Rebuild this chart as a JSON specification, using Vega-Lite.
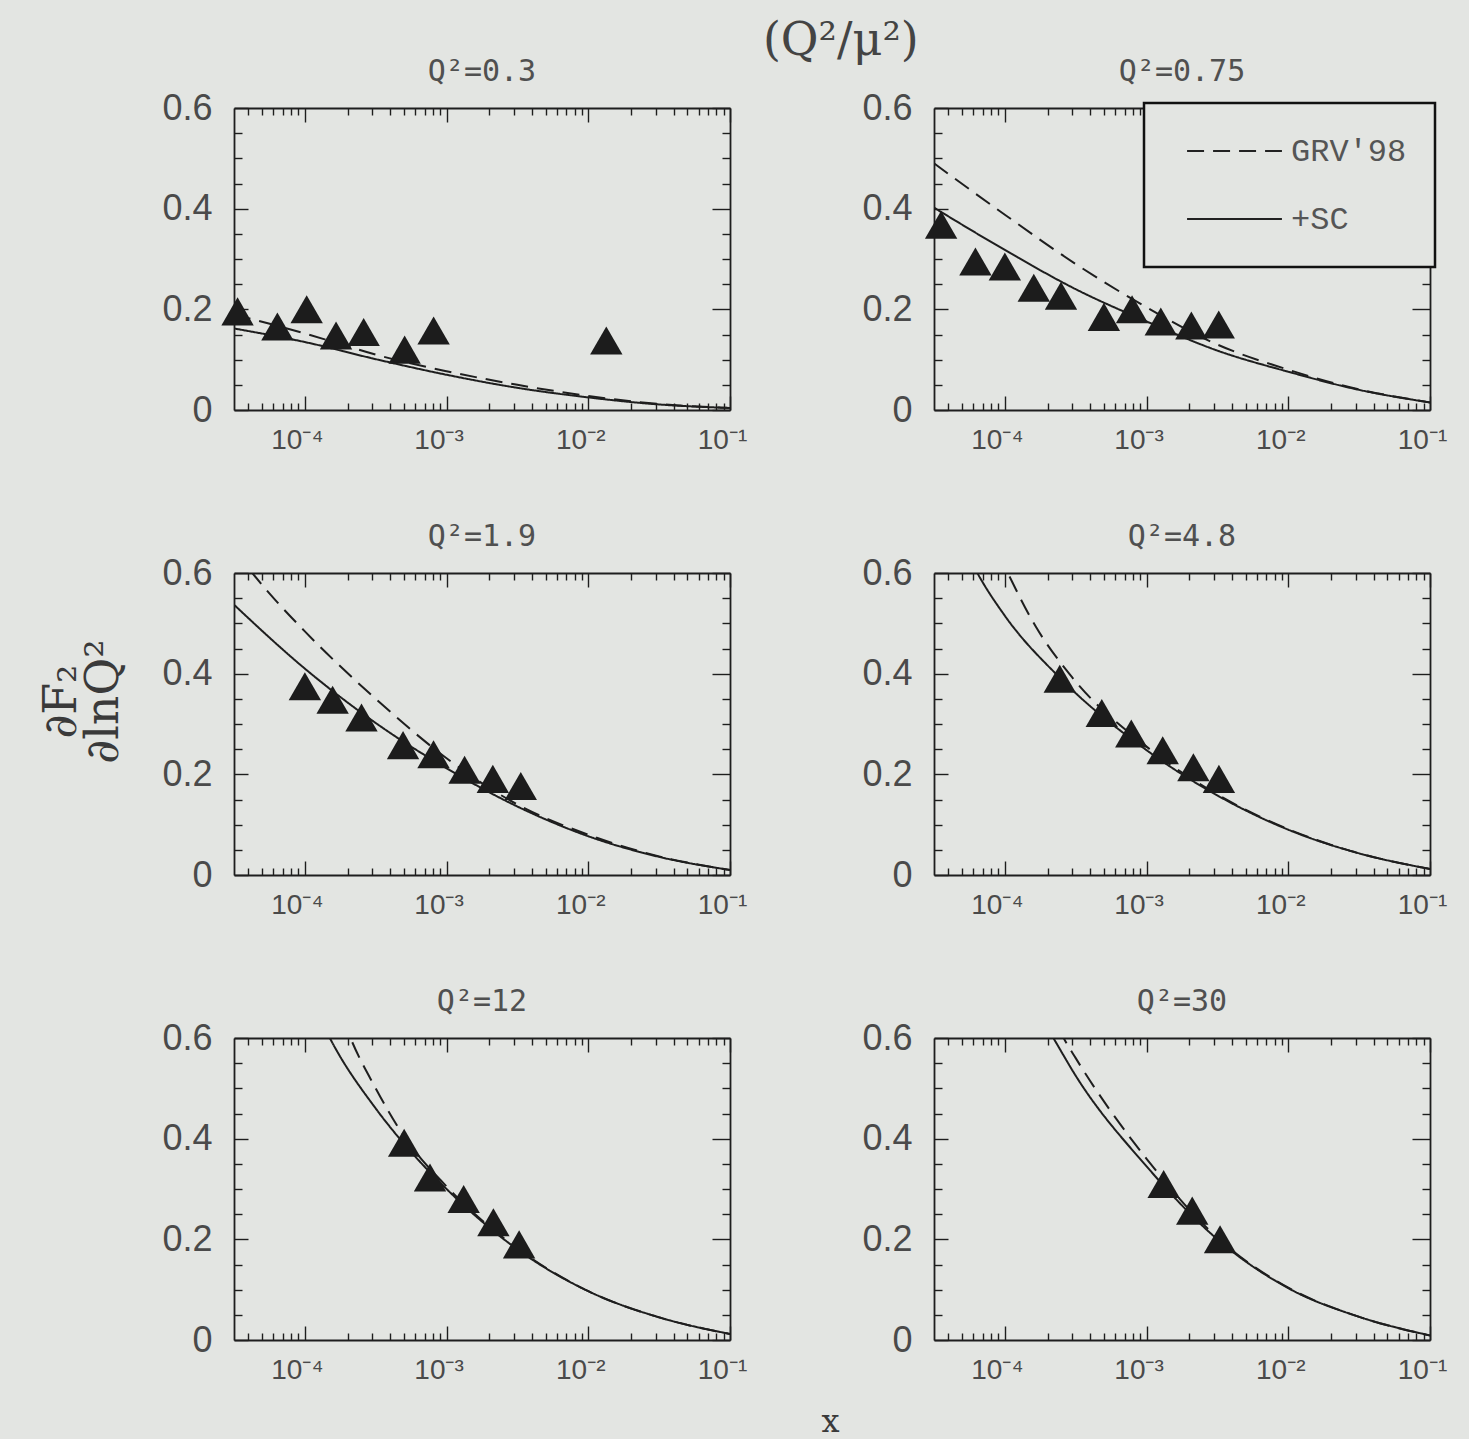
{
"$schema": "https://vega.github.io/schema/vega-lite/v6.json",
"background": "#e3e5e2",
"padding": {"left": 38, "top": 18, "right": 23, "bottom": 5},
"title": {"text": "(Q²/μ²)", "font": "DejaVu Serif", "fontSize": 46, "fontWeight": "normal", "color": "#444", "dx": 98, "offset": -8, "anchor": "middle"},
"datasets": {
"curves": [
{"p":"0.3","m":"GRV'98","x":3.1623e-5,"y":0.19},{"p":"0.3","m":"GRV'98","x":1e-4,"y":0.152},{"p":"0.3","m":"GRV'98","x":1.78e-4,"y":0.131},{"p":"0.3","m":"GRV'98","x":3.1623e-4,"y":0.110},{"p":"0.3","m":"GRV'98","x":1e-3,"y":0.077},{"p":"0.3","m":"GRV'98","x":3.1623e-3,"y":0.050},{"p":"0.3","m":"GRV'98","x":1e-2,"y":0.028},{"p":"0.3","m":"GRV'98","x":3.1623e-2,"y":0.012},{"p":"0.3","m":"GRV'98","x":0.1,"y":0.004},
{"p":"0.3","m":"+SC","x":3.1623e-5,"y":0.162},{"p":"0.3","m":"+SC","x":1e-4,"y":0.135},{"p":"0.3","m":"+SC","x":3.1623e-4,"y":0.101},{"p":"0.3","m":"+SC","x":1e-3,"y":0.070},{"p":"0.3","m":"+SC","x":3.1623e-3,"y":0.044},{"p":"0.3","m":"+SC","x":1e-2,"y":0.025},{"p":"0.3","m":"+SC","x":3.1623e-2,"y":0.011},{"p":"0.3","m":"+SC","x":0.1,"y":0.004},
{"p":"0.75","m":"GRV'98","x":3.1623e-5,"y":0.490},{"p":"0.75","m":"GRV'98","x":1e-4,"y":0.388},{"p":"0.75","m":"GRV'98","x":3.1623e-4,"y":0.290},{"p":"0.75","m":"GRV'98","x":1e-3,"y":0.204},{"p":"0.75","m":"GRV'98","x":3.1623e-3,"y":0.130},{"p":"0.75","m":"GRV'98","x":1e-2,"y":0.080},{"p":"0.75","m":"GRV'98","x":3.1623e-2,"y":0.041},{"p":"0.75","m":"GRV'98","x":0.1,"y":0.015},
{"p":"0.75","m":"+SC","x":3.1623e-5,"y":0.402},{"p":"0.75","m":"+SC","x":1e-4,"y":0.318},{"p":"0.75","m":"+SC","x":3.1623e-4,"y":0.240},{"p":"0.75","m":"+SC","x":1e-3,"y":0.176},{"p":"0.75","m":"+SC","x":3.1623e-3,"y":0.118},{"p":"0.75","m":"+SC","x":1e-2,"y":0.076},{"p":"0.75","m":"+SC","x":3.1623e-2,"y":0.040},{"p":"0.75","m":"+SC","x":0.1,"y":0.015},
{"p":"1.9","m":"GRV'98","x":3.1623e-5,"y":0.645},{"p":"1.9","m":"GRV'98","x":5.6e-5,"y":0.56},{"p":"1.9","m":"GRV'98","x":1e-4,"y":0.484},{"p":"1.9","m":"GRV'98","x":3.1623e-4,"y":0.350},{"p":"1.9","m":"GRV'98","x":1e-3,"y":0.232},{"p":"1.9","m":"GRV'98","x":3.1623e-3,"y":0.140},{"p":"1.9","m":"GRV'98","x":1e-2,"y":0.080},{"p":"1.9","m":"GRV'98","x":3.1623e-2,"y":0.037},{"p":"1.9","m":"GRV'98","x":0.1,"y":0.010},
{"p":"1.9","m":"+SC","x":3.1623e-5,"y":0.537},{"p":"1.9","m":"+SC","x":1e-4,"y":0.410},{"p":"1.9","m":"+SC","x":3.1623e-4,"y":0.302},{"p":"1.9","m":"+SC","x":1e-3,"y":0.212},{"p":"1.9","m":"+SC","x":3.1623e-3,"y":0.136},{"p":"1.9","m":"+SC","x":1e-2,"y":0.077},{"p":"1.9","m":"+SC","x":3.1623e-2,"y":0.036},{"p":"1.9","m":"+SC","x":0.1,"y":0.010},
{"p":"4.8","m":"GRV'98","x":9e-5,"y":0.64},{"p":"4.8","m":"GRV'98","x":1.05e-4,"y":0.60},{"p":"4.8","m":"GRV'98","x":1.64e-4,"y":0.495},{"p":"4.8","m":"GRV'98","x":2.9e-4,"y":0.397},{"p":"4.8","m":"GRV'98","x":1e-3,"y":0.255},{"p":"4.8","m":"GRV'98","x":3.1623e-3,"y":0.160},{"p":"4.8","m":"GRV'98","x":1e-2,"y":0.091},{"p":"4.8","m":"GRV'98","x":3.1623e-2,"y":0.043},{"p":"4.8","m":"GRV'98","x":0.1,"y":0.012},
{"p":"4.8","m":"+SC","x":5.2e-5,"y":0.65},{"p":"4.8","m":"+SC","x":6.4e-5,"y":0.60},{"p":"4.8","m":"+SC","x":1e-4,"y":0.515},{"p":"4.8","m":"+SC","x":2.44e-4,"y":0.392},{"p":"4.8","m":"+SC","x":1e-3,"y":0.248},{"p":"4.8","m":"+SC","x":3.1623e-3,"y":0.158},{"p":"4.8","m":"+SC","x":1e-2,"y":0.090},{"p":"4.8","m":"+SC","x":3.1623e-2,"y":0.043},{"p":"4.8","m":"+SC","x":0.1,"y":0.012},
{"p":"12","m":"GRV'98","x":1.85e-4,"y":0.64},{"p":"12","m":"GRV'98","x":2.1e-4,"y":0.60},{"p":"12","m":"GRV'98","x":3.1623e-4,"y":0.50},{"p":"12","m":"GRV'98","x":5e-4,"y":0.405},{"p":"12","m":"GRV'98","x":1e-3,"y":0.305},{"p":"12","m":"GRV'98","x":3.1623e-3,"y":0.182},{"p":"12","m":"GRV'98","x":1e-2,"y":0.097},{"p":"12","m":"GRV'98","x":3.1623e-2,"y":0.045},{"p":"12","m":"GRV'98","x":0.1,"y":0.012},
{"p":"12","m":"+SC","x":1.3e-4,"y":0.635},{"p":"12","m":"+SC","x":1.5e-4,"y":0.60},{"p":"12","m":"+SC","x":3.1623e-4,"y":0.46},{"p":"12","m":"+SC","x":5e-4,"y":0.39},{"p":"12","m":"+SC","x":1e-3,"y":0.30},{"p":"12","m":"+SC","x":3.1623e-3,"y":0.18},{"p":"12","m":"+SC","x":1e-2,"y":0.097},{"p":"12","m":"+SC","x":3.1623e-2,"y":0.045},{"p":"12","m":"+SC","x":0.1,"y":0.012},
{"p":"30","m":"GRV'98","x":2.4e-4,"y":0.62},{"p":"30","m":"GRV'98","x":2.6e-4,"y":0.60},{"p":"30","m":"GRV'98","x":3.1623e-4,"y":0.56},{"p":"30","m":"GRV'98","x":1e-3,"y":0.36},{"p":"30","m":"GRV'98","x":3.1623e-3,"y":0.203},{"p":"30","m":"GRV'98","x":1e-2,"y":0.104},{"p":"30","m":"GRV'98","x":3.1623e-2,"y":0.046},{"p":"30","m":"GRV'98","x":0.1,"y":0.009},
{"p":"30","m":"+SC","x":1.95e-4,"y":0.625},{"p":"30","m":"+SC","x":2.2e-4,"y":0.60},{"p":"30","m":"+SC","x":3.1623e-4,"y":0.525},{"p":"30","m":"+SC","x":1e-3,"y":0.345},{"p":"30","m":"+SC","x":3.1623e-3,"y":0.20},{"p":"30","m":"+SC","x":1e-2,"y":0.103},{"p":"30","m":"+SC","x":3.1623e-2,"y":0.046},{"p":"30","m":"+SC","x":0.1,"y":0.009}
],
"pts": [
{"p":"0.3","x":3.35e-5,"y":0.196},{"p":"0.3","x":6.4e-5,"y":0.166},{"p":"0.3","x":1.03e-4,"y":0.2},{"p":"0.3","x":1.66e-4,"y":0.148},{"p":"0.3","x":2.6e-4,"y":0.155},{"p":"0.3","x":5.06e-4,"y":0.12},{"p":"0.3","x":8.1e-4,"y":0.158},{"p":"0.3","x":1.34e-2,"y":0.138},
{"p":"0.75","x":3.55e-5,"y":0.368},{"p":"0.75","x":6.2e-5,"y":0.295},{"p":"0.75","x":1.0e-4,"y":0.285},{"p":"0.75","x":1.6e-4,"y":0.243},{"p":"0.75","x":2.49e-4,"y":0.227},{"p":"0.75","x":5.0e-4,"y":0.185},{"p":"0.75","x":7.9e-4,"y":0.2},{"p":"0.75","x":1.26e-3,"y":0.176},{"p":"0.75","x":2.07e-3,"y":0.168},{"p":"0.75","x":3.23e-3,"y":0.17},
{"p":"1.9","x":1.0e-4,"y":0.375},{"p":"1.9","x":1.57e-4,"y":0.348},{"p":"1.9","x":2.51e-4,"y":0.313},{"p":"1.9","x":4.93e-4,"y":0.258},{"p":"1.9","x":8.09e-4,"y":0.24},{"p":"1.9","x":1.34e-3,"y":0.209},{"p":"1.9","x":2.12e-3,"y":0.191},{"p":"1.9","x":3.34e-3,"y":0.177},
{"p":"4.8","x":2.44e-4,"y":0.39},{"p":"4.8","x":4.83e-4,"y":0.322},{"p":"4.8","x":7.8e-4,"y":0.281},{"p":"4.8","x":1.3e-3,"y":0.248},{"p":"4.8","x":2.14e-3,"y":0.214},{"p":"4.8","x":3.24e-3,"y":0.191},
{"p":"12","x":5.02e-4,"y":0.392},{"p":"12","x":7.64e-4,"y":0.323},{"p":"12","x":1.32e-3,"y":0.28},{"p":"12","x":2.14e-3,"y":0.234},{"p":"12","x":3.25e-3,"y":0.19},
{"p":"30","x":1.32e-3,"y":0.31},{"p":"30","x":2.1e-3,"y":0.257},{"p":"30","x":3.3e-3,"y":0.2}
]
},
"columns": 2,
"align": "each",
"spacing": {"row": 61, "column": 21},
"resolve": {"scale": {"strokeDash": "independent"}, "legend": {"strokeDash": "independent"}},
"config": {
"view": {"stroke": null},
"axis": {"grid": false, "domainColor": "#1e1e1e", "domainWidth": 1.8, "tickColor": "#1e1e1e", "tickWidth": 1.4, "labelFont": "Liberation Sans", "labelColor": "#4a4a4a", "titleFont": "DejaVu Serif", "titleColor": "#3a3a3a", "titleFontWeight": "normal", "labelOverlap": false, "labelFlush": false, "labelBound": false},
"title": {"font": "DejaVu Sans Mono", "fontSize": 30, "fontWeight": "normal", "color": "#505050", "offset": 3},
"legend": {"orient": "top-right", "offset": -5, "strokeColor": "#111", "strokeWidth": 2.5, "fillColor": "#e3e5e2", "padding": 28, "symbolType": "stroke", "symbolSize": 9000, "symbolStrokeWidth": 2, "symbolStrokeColor": "#222", "symbolOffset": 14, "labelFont": "Liberation Mono", "labelFontSize": 32, "labelColor": "#555", "labelOffset": 8, "rowPadding": 28, "clipHeight": 40, "title": null}
},
"concat": [
{"width": 496, "height": 302, "title": "Q²=0.3",
 "resolve": {"axis": {"x": "independent", "y": "independent"}},
 "layer": [
  {"data": {"name": "curves"}, "transform": [{"filter": {"and": [{"field": "p", "equal": "0.3"}, {"field": "m", "equal": "GRV'98"}]}}],
   "mark": {"type": "line", "clip": true, "interpolate": "monotone", "color": "#1e1e1e", "strokeWidth": 2},
   "encoding": {
    "x": {"field": "x", "type": "quantitative", "scale": {"type": "log", "domain": [3.1623e-5, 0.1], "nice": false}, "axis": {"orient": "bottom", "title": null, "values": [4e-5,5e-5,6e-5,7e-5,8e-5,9e-5,1e-4,2e-4,3e-4,4e-4,5e-4,6e-4,7e-4,8e-4,9e-4,1e-3,2e-3,3e-3,4e-3,5e-3,6e-3,7e-3,8e-3,9e-3,1e-2,2e-2,3e-2,4e-2,5e-2,6e-2,7e-2,8e-2,9e-2,0.1], "labelExpr": "abs(log(datum.value)/LN10 - round(log(datum.value)/LN10)) < 0.01 ? '10⁻' + ['','¹','²','³','⁴','⁵'][-round(log(datum.value)/LN10)] : ''", "tickSize": {"condition": {"test": "abs(log(datum.value)/LN10 - round(log(datum.value)/LN10)) < 0.01", "value": -14}, "value": -7}, "labelPadding": 30, "labelFontSize": 28, "labelOffset": -8}},
    "y": {"field": "y", "type": "quantitative", "scale": {"domain": [0, 0.6], "nice": false}, "axis": {"orient": "left", "title": null, "values": [0,0.05,0.1,0.15,0.2,0.25,0.3,0.35,0.4,0.45,0.5,0.55,0.6], "labelExpr": "abs(datum.value*5 - round(datum.value*5)) < 0.001 ? (datum.value == 0 ? '0' : format(datum.value, '.1f')) : ''", "tickSize": {"condition": {"test": "abs(datum.value*5 - round(datum.value*5)) < 0.001", "value": -14}, "value": -8}, "labelPadding": 36, "labelFontSize": 36}},
    "strokeDash": {"field": "m", "type": "nominal", "scale": {"domain": ["GRV'98", "+SC"], "range": [[17, 9], [1, 0]]}, "legend": null}}},
  {"data": {"name": "curves"}, "transform": [{"filter": {"and": [{"field": "p", "equal": "0.3"}, {"field": "m", "equal": "+SC"}]}}],
   "mark": {"type": "line", "clip": true, "interpolate": "monotone", "color": "#1e1e1e", "strokeWidth": 2},
   "encoding": {
    "x": {"field": "x", "type": "quantitative", "axis": {"orient": "top", "title": null, "labels": false, "minExtent": 0, "maxExtent": 0, "values": [4e-5,5e-5,6e-5,7e-5,8e-5,9e-5,1e-4,2e-4,3e-4,4e-4,5e-4,6e-4,7e-4,8e-4,9e-4,1e-3,2e-3,3e-3,4e-3,5e-3,6e-3,7e-3,8e-3,9e-3,1e-2,2e-2,3e-2,4e-2,5e-2,6e-2,7e-2,8e-2,9e-2,0.1], "tickSize": {"condition": {"test": "abs(log(datum.value)/LN10 - round(log(datum.value)/LN10)) < 0.01", "value": -14}, "value": -7}}},
    "y": {"field": "y", "type": "quantitative", "axis": {"orient": "right", "title": null, "labels": false, "minExtent": 0, "maxExtent": 0, "values": [0,0.05,0.1,0.15,0.2,0.25,0.3,0.35,0.4,0.45,0.5,0.55,0.6], "tickSize": {"condition": {"test": "abs(datum.value*5 - round(datum.value*5)) < 0.001", "value": -18}, "value": -8}}},
    "strokeDash": {"field": "m", "type": "nominal", "legend": null}}},
  {"data": {"name": "pts"}, "transform": [{"filter": {"field": "p", "equal": "0.3"}}],
   "mark": {"type": "point", "filled": true, "shape": "M-1,0.866L0,-0.866L1,0.866Z", "size": 1050, "color": "#1c1c1c", "opacity": 1},
   "encoding": {"x": {"field": "x", "type": "quantitative", "axis": null}, "y": {"field": "y", "type": "quantitative", "axis": null}}}
 ]},
{"width": 496, "height": 302, "title": "Q²=0.75",
 "resolve": {"axis": {"x": "independent", "y": "independent"}},
 "layer": [
  {"data": {"name": "curves"}, "transform": [{"filter": {"and": [{"field": "p", "equal": "0.75"}, {"field": "m", "equal": "GRV'98"}]}}],
   "mark": {"type": "line", "clip": true, "interpolate": "monotone", "color": "#1e1e1e", "strokeWidth": 2},
   "encoding": {
    "x": {"field": "x", "type": "quantitative", "scale": {"type": "log", "domain": [3.1623e-5, 0.1], "nice": false}, "axis": {"orient": "bottom", "title": null, "values": [4e-5,5e-5,6e-5,7e-5,8e-5,9e-5,1e-4,2e-4,3e-4,4e-4,5e-4,6e-4,7e-4,8e-4,9e-4,1e-3,2e-3,3e-3,4e-3,5e-3,6e-3,7e-3,8e-3,9e-3,1e-2,2e-2,3e-2,4e-2,5e-2,6e-2,7e-2,8e-2,9e-2,0.1], "labelExpr": "abs(log(datum.value)/LN10 - round(log(datum.value)/LN10)) < 0.01 ? '10⁻' + ['','¹','²','³','⁴','⁵'][-round(log(datum.value)/LN10)] : ''", "tickSize": {"condition": {"test": "abs(log(datum.value)/LN10 - round(log(datum.value)/LN10)) < 0.01", "value": -14}, "value": -7}, "labelPadding": 30, "labelFontSize": 28, "labelOffset": -8}},
    "y": {"field": "y", "type": "quantitative", "scale": {"domain": [0, 0.6], "nice": false}, "axis": {"orient": "left", "title": null, "values": [0,0.05,0.1,0.15,0.2,0.25,0.3,0.35,0.4,0.45,0.5,0.55,0.6], "labelExpr": "abs(datum.value*5 - round(datum.value*5)) < 0.001 ? (datum.value == 0 ? '0' : format(datum.value, '.1f')) : ''", "tickSize": {"condition": {"test": "abs(datum.value*5 - round(datum.value*5)) < 0.001", "value": -14}, "value": -8}, "labelPadding": 36, "labelFontSize": 36}},
    "strokeDash": {"field": "m", "type": "nominal", "scale": {"domain": ["GRV'98", "+SC"], "range": [[17, 9], [1, 0]]}}}},
  {"data": {"name": "curves"}, "transform": [{"filter": {"and": [{"field": "p", "equal": "0.75"}, {"field": "m", "equal": "+SC"}]}}],
   "mark": {"type": "line", "clip": true, "interpolate": "monotone", "color": "#1e1e1e", "strokeWidth": 2},
   "encoding": {
    "x": {"field": "x", "type": "quantitative", "axis": {"orient": "top", "title": null, "labels": false, "minExtent": 0, "maxExtent": 0, "values": [4e-5,5e-5,6e-5,7e-5,8e-5,9e-5,1e-4,2e-4,3e-4,4e-4,5e-4,6e-4,7e-4,8e-4,9e-4,1e-3,2e-3,3e-3,4e-3,5e-3,6e-3,7e-3,8e-3,9e-3,1e-2,2e-2,3e-2,4e-2,5e-2,6e-2,7e-2,8e-2,9e-2,0.1], "tickSize": {"condition": {"test": "abs(log(datum.value)/LN10 - round(log(datum.value)/LN10)) < 0.01", "value": -14}, "value": -7}}},
    "y": {"field": "y", "type": "quantitative", "axis": {"orient": "right", "title": null, "labels": false, "minExtent": 0, "maxExtent": 0, "values": [0,0.05,0.1,0.15,0.2,0.25,0.3,0.35,0.4,0.45,0.5,0.55,0.6], "tickSize": {"condition": {"test": "abs(datum.value*5 - round(datum.value*5)) < 0.001", "value": -18}, "value": -8}}},
    "strokeDash": {"field": "m", "type": "nominal"}}},
  {"data": {"name": "pts"}, "transform": [{"filter": {"field": "p", "equal": "0.75"}}],
   "mark": {"type": "point", "filled": true, "shape": "M-1,0.866L0,-0.866L1,0.866Z", "size": 1050, "color": "#1c1c1c", "opacity": 1},
   "encoding": {"x": {"field": "x", "type": "quantitative", "axis": null}, "y": {"field": "y", "type": "quantitative", "axis": null}}}
 ]},
{"width": 496, "height": 302, "title": "Q²=1.9",
 "resolve": {"axis": {"x": "independent", "y": "independent"}},
 "layer": [
  {"data": {"name": "curves"}, "transform": [{"filter": {"and": [{"field": "p", "equal": "1.9"}, {"field": "m", "equal": "GRV'98"}]}}],
   "mark": {"type": "line", "clip": true, "interpolate": "monotone", "color": "#1e1e1e", "strokeWidth": 2},
   "encoding": {
    "x": {"field": "x", "type": "quantitative", "scale": {"type": "log", "domain": [3.1623e-5, 0.1], "nice": false}, "axis": {"orient": "bottom", "title": null, "values": [4e-5,5e-5,6e-5,7e-5,8e-5,9e-5,1e-4,2e-4,3e-4,4e-4,5e-4,6e-4,7e-4,8e-4,9e-4,1e-3,2e-3,3e-3,4e-3,5e-3,6e-3,7e-3,8e-3,9e-3,1e-2,2e-2,3e-2,4e-2,5e-2,6e-2,7e-2,8e-2,9e-2,0.1], "labelExpr": "abs(log(datum.value)/LN10 - round(log(datum.value)/LN10)) < 0.01 ? '10⁻' + ['','¹','²','³','⁴','⁵'][-round(log(datum.value)/LN10)] : ''", "tickSize": {"condition": {"test": "abs(log(datum.value)/LN10 - round(log(datum.value)/LN10)) < 0.01", "value": -14}, "value": -7}, "labelPadding": 30, "labelFontSize": 28, "labelOffset": -8}},
    "y": {"field": "y", "type": "quantitative", "scale": {"domain": [0, 0.6], "nice": false}, "axis": {"orient": "left", "title": ["∂F₂", "∂lnQ²"], "titleFontSize": 46, "titlePadding": 34, "titleLineHeight": 42, "titleY": 128, "values": [0,0.05,0.1,0.15,0.2,0.25,0.3,0.35,0.4,0.45,0.5,0.55,0.6], "labelExpr": "abs(datum.value*5 - round(datum.value*5)) < 0.001 ? (datum.value == 0 ? '0' : format(datum.value, '.1f')) : ''", "tickSize": {"condition": {"test": "abs(datum.value*5 - round(datum.value*5)) < 0.001", "value": -14}, "value": -8}, "labelPadding": 36, "labelFontSize": 36}},
    "strokeDash": {"field": "m", "type": "nominal", "scale": {"domain": ["GRV'98", "+SC"], "range": [[17, 9], [1, 0]]}, "legend": null}}},
  {"data": {"name": "curves"}, "transform": [{"filter": {"and": [{"field": "p", "equal": "1.9"}, {"field": "m", "equal": "+SC"}]}}],
   "mark": {"type": "line", "clip": true, "interpolate": "monotone", "color": "#1e1e1e", "strokeWidth": 2},
   "encoding": {
    "x": {"field": "x", "type": "quantitative", "axis": {"orient": "top", "title": null, "labels": false, "minExtent": 0, "maxExtent": 0, "values": [4e-5,5e-5,6e-5,7e-5,8e-5,9e-5,1e-4,2e-4,3e-4,4e-4,5e-4,6e-4,7e-4,8e-4,9e-4,1e-3,2e-3,3e-3,4e-3,5e-3,6e-3,7e-3,8e-3,9e-3,1e-2,2e-2,3e-2,4e-2,5e-2,6e-2,7e-2,8e-2,9e-2,0.1], "tickSize": {"condition": {"test": "abs(log(datum.value)/LN10 - round(log(datum.value)/LN10)) < 0.01", "value": -14}, "value": -7}}},
    "y": {"field": "y", "type": "quantitative", "axis": {"orient": "right", "title": null, "labels": false, "minExtent": 0, "maxExtent": 0, "values": [0,0.05,0.1,0.15,0.2,0.25,0.3,0.35,0.4,0.45,0.5,0.55,0.6], "tickSize": {"condition": {"test": "abs(datum.value*5 - round(datum.value*5)) < 0.001", "value": -18}, "value": -8}}},
    "strokeDash": {"field": "m", "type": "nominal", "legend": null}}},
  {"data": {"name": "pts"}, "transform": [{"filter": {"field": "p", "equal": "1.9"}}],
   "mark": {"type": "point", "filled": true, "shape": "M-1,0.866L0,-0.866L1,0.866Z", "size": 1050, "color": "#1c1c1c", "opacity": 1},
   "encoding": {"x": {"field": "x", "type": "quantitative", "axis": null}, "y": {"field": "y", "type": "quantitative", "axis": null}}}
 ]},
{"width": 496, "height": 302, "title": "Q²=4.8",
 "resolve": {"axis": {"x": "independent", "y": "independent"}},
 "layer": [
  {"data": {"name": "curves"}, "transform": [{"filter": {"and": [{"field": "p", "equal": "4.8"}, {"field": "m", "equal": "GRV'98"}]}}],
   "mark": {"type": "line", "clip": true, "interpolate": "monotone", "color": "#1e1e1e", "strokeWidth": 2},
   "encoding": {
    "x": {"field": "x", "type": "quantitative", "scale": {"type": "log", "domain": [3.1623e-5, 0.1], "nice": false}, "axis": {"orient": "bottom", "title": null, "values": [4e-5,5e-5,6e-5,7e-5,8e-5,9e-5,1e-4,2e-4,3e-4,4e-4,5e-4,6e-4,7e-4,8e-4,9e-4,1e-3,2e-3,3e-3,4e-3,5e-3,6e-3,7e-3,8e-3,9e-3,1e-2,2e-2,3e-2,4e-2,5e-2,6e-2,7e-2,8e-2,9e-2,0.1], "labelExpr": "abs(log(datum.value)/LN10 - round(log(datum.value)/LN10)) < 0.01 ? '10⁻' + ['','¹','²','³','⁴','⁵'][-round(log(datum.value)/LN10)] : ''", "tickSize": {"condition": {"test": "abs(log(datum.value)/LN10 - round(log(datum.value)/LN10)) < 0.01", "value": -14}, "value": -7}, "labelPadding": 30, "labelFontSize": 28, "labelOffset": -8}},
    "y": {"field": "y", "type": "quantitative", "scale": {"domain": [0, 0.6], "nice": false}, "axis": {"orient": "left", "title": null, "values": [0,0.05,0.1,0.15,0.2,0.25,0.3,0.35,0.4,0.45,0.5,0.55,0.6], "labelExpr": "abs(datum.value*5 - round(datum.value*5)) < 0.001 ? (datum.value == 0 ? '0' : format(datum.value, '.1f')) : ''", "tickSize": {"condition": {"test": "abs(datum.value*5 - round(datum.value*5)) < 0.001", "value": -14}, "value": -8}, "labelPadding": 36, "labelFontSize": 36}},
    "strokeDash": {"field": "m", "type": "nominal", "scale": {"domain": ["GRV'98", "+SC"], "range": [[17, 9], [1, 0]]}, "legend": null}}},
  {"data": {"name": "curves"}, "transform": [{"filter": {"and": [{"field": "p", "equal": "4.8"}, {"field": "m", "equal": "+SC"}]}}],
   "mark": {"type": "line", "clip": true, "interpolate": "monotone", "color": "#1e1e1e", "strokeWidth": 2},
   "encoding": {
    "x": {"field": "x", "type": "quantitative", "axis": {"orient": "top", "title": null, "labels": false, "minExtent": 0, "maxExtent": 0, "values": [4e-5,5e-5,6e-5,7e-5,8e-5,9e-5,1e-4,2e-4,3e-4,4e-4,5e-4,6e-4,7e-4,8e-4,9e-4,1e-3,2e-3,3e-3,4e-3,5e-3,6e-3,7e-3,8e-3,9e-3,1e-2,2e-2,3e-2,4e-2,5e-2,6e-2,7e-2,8e-2,9e-2,0.1], "tickSize": {"condition": {"test": "abs(log(datum.value)/LN10 - round(log(datum.value)/LN10)) < 0.01", "value": -14}, "value": -7}}},
    "y": {"field": "y", "type": "quantitative", "axis": {"orient": "right", "title": null, "labels": false, "minExtent": 0, "maxExtent": 0, "values": [0,0.05,0.1,0.15,0.2,0.25,0.3,0.35,0.4,0.45,0.5,0.55,0.6], "tickSize": {"condition": {"test": "abs(datum.value*5 - round(datum.value*5)) < 0.001", "value": -18}, "value": -8}}},
    "strokeDash": {"field": "m", "type": "nominal", "legend": null}}},
  {"data": {"name": "pts"}, "transform": [{"filter": {"field": "p", "equal": "4.8"}}],
   "mark": {"type": "point", "filled": true, "shape": "M-1,0.866L0,-0.866L1,0.866Z", "size": 1050, "color": "#1c1c1c", "opacity": 1},
   "encoding": {"x": {"field": "x", "type": "quantitative", "axis": null}, "y": {"field": "y", "type": "quantitative", "axis": null}}}
 ]},
{"width": 496, "height": 302, "title": "Q²=12",
 "resolve": {"axis": {"x": "independent", "y": "independent"}},
 "layer": [
  {"data": {"name": "curves"}, "transform": [{"filter": {"and": [{"field": "p", "equal": "12"}, {"field": "m", "equal": "GRV'98"}]}}],
   "mark": {"type": "line", "clip": true, "interpolate": "monotone", "color": "#1e1e1e", "strokeWidth": 2},
   "encoding": {
    "x": {"field": "x", "type": "quantitative", "scale": {"type": "log", "domain": [3.1623e-5, 0.1], "nice": false}, "axis": {"orient": "bottom", "title": "x", "titleFontSize": 32, "titleX": 596, "titleY": 66, "values": [4e-5,5e-5,6e-5,7e-5,8e-5,9e-5,1e-4,2e-4,3e-4,4e-4,5e-4,6e-4,7e-4,8e-4,9e-4,1e-3,2e-3,3e-3,4e-3,5e-3,6e-3,7e-3,8e-3,9e-3,1e-2,2e-2,3e-2,4e-2,5e-2,6e-2,7e-2,8e-2,9e-2,0.1], "labelExpr": "abs(log(datum.value)/LN10 - round(log(datum.value)/LN10)) < 0.01 ? '10⁻' + ['','¹','²','³','⁴','⁵'][-round(log(datum.value)/LN10)] : ''", "tickSize": {"condition": {"test": "abs(log(datum.value)/LN10 - round(log(datum.value)/LN10)) < 0.01", "value": -14}, "value": -7}, "labelPadding": 30, "labelFontSize": 28, "labelOffset": -8}},
    "y": {"field": "y", "type": "quantitative", "scale": {"domain": [0, 0.6], "nice": false}, "axis": {"orient": "left", "title": null, "values": [0,0.05,0.1,0.15,0.2,0.25,0.3,0.35,0.4,0.45,0.5,0.55,0.6], "labelExpr": "abs(datum.value*5 - round(datum.value*5)) < 0.001 ? (datum.value == 0 ? '0' : format(datum.value, '.1f')) : ''", "tickSize": {"condition": {"test": "abs(datum.value*5 - round(datum.value*5)) < 0.001", "value": -14}, "value": -8}, "labelPadding": 36, "labelFontSize": 36}},
    "strokeDash": {"field": "m", "type": "nominal", "scale": {"domain": ["GRV'98", "+SC"], "range": [[17, 9], [1, 0]]}, "legend": null}}},
  {"data": {"name": "curves"}, "transform": [{"filter": {"and": [{"field": "p", "equal": "12"}, {"field": "m", "equal": "+SC"}]}}],
   "mark": {"type": "line", "clip": true, "interpolate": "monotone", "color": "#1e1e1e", "strokeWidth": 2},
   "encoding": {
    "x": {"field": "x", "type": "quantitative", "axis": {"orient": "top", "title": null, "labels": false, "minExtent": 0, "maxExtent": 0, "values": [4e-5,5e-5,6e-5,7e-5,8e-5,9e-5,1e-4,2e-4,3e-4,4e-4,5e-4,6e-4,7e-4,8e-4,9e-4,1e-3,2e-3,3e-3,4e-3,5e-3,6e-3,7e-3,8e-3,9e-3,1e-2,2e-2,3e-2,4e-2,5e-2,6e-2,7e-2,8e-2,9e-2,0.1], "tickSize": {"condition": {"test": "abs(log(datum.value)/LN10 - round(log(datum.value)/LN10)) < 0.01", "value": -14}, "value": -7}}},
    "y": {"field": "y", "type": "quantitative", "axis": {"orient": "right", "title": null, "labels": false, "minExtent": 0, "maxExtent": 0, "values": [0,0.05,0.1,0.15,0.2,0.25,0.3,0.35,0.4,0.45,0.5,0.55,0.6], "tickSize": {"condition": {"test": "abs(datum.value*5 - round(datum.value*5)) < 0.001", "value": -18}, "value": -8}}},
    "strokeDash": {"field": "m", "type": "nominal", "legend": null}}},
  {"data": {"name": "pts"}, "transform": [{"filter": {"field": "p", "equal": "12"}}],
   "mark": {"type": "point", "filled": true, "shape": "M-1,0.866L0,-0.866L1,0.866Z", "size": 1050, "color": "#1c1c1c", "opacity": 1},
   "encoding": {"x": {"field": "x", "type": "quantitative", "axis": null}, "y": {"field": "y", "type": "quantitative", "axis": null}}}
 ]},
{"width": 496, "height": 302, "title": "Q²=30",
 "resolve": {"axis": {"x": "independent", "y": "independent"}},
 "layer": [
  {"data": {"name": "curves"}, "transform": [{"filter": {"and": [{"field": "p", "equal": "30"}, {"field": "m", "equal": "GRV'98"}]}}],
   "mark": {"type": "line", "clip": true, "interpolate": "monotone", "color": "#1e1e1e", "strokeWidth": 2},
   "encoding": {
    "x": {"field": "x", "type": "quantitative", "scale": {"type": "log", "domain": [3.1623e-5, 0.1], "nice": false}, "axis": {"orient": "bottom", "title": null, "values": [4e-5,5e-5,6e-5,7e-5,8e-5,9e-5,1e-4,2e-4,3e-4,4e-4,5e-4,6e-4,7e-4,8e-4,9e-4,1e-3,2e-3,3e-3,4e-3,5e-3,6e-3,7e-3,8e-3,9e-3,1e-2,2e-2,3e-2,4e-2,5e-2,6e-2,7e-2,8e-2,9e-2,0.1], "labelExpr": "abs(log(datum.value)/LN10 - round(log(datum.value)/LN10)) < 0.01 ? '10⁻' + ['','¹','²','³','⁴','⁵'][-round(log(datum.value)/LN10)] : ''", "tickSize": {"condition": {"test": "abs(log(datum.value)/LN10 - round(log(datum.value)/LN10)) < 0.01", "value": -14}, "value": -7}, "labelPadding": 30, "labelFontSize": 28, "labelOffset": -8}},
    "y": {"field": "y", "type": "quantitative", "scale": {"domain": [0, 0.6], "nice": false}, "axis": {"orient": "left", "title": null, "values": [0,0.05,0.1,0.15,0.2,0.25,0.3,0.35,0.4,0.45,0.5,0.55,0.6], "labelExpr": "abs(datum.value*5 - round(datum.value*5)) < 0.001 ? (datum.value == 0 ? '0' : format(datum.value, '.1f')) : ''", "tickSize": {"condition": {"test": "abs(datum.value*5 - round(datum.value*5)) < 0.001", "value": -14}, "value": -8}, "labelPadding": 36, "labelFontSize": 36}},
    "strokeDash": {"field": "m", "type": "nominal", "scale": {"domain": ["GRV'98", "+SC"], "range": [[17, 9], [1, 0]]}, "legend": null}}},
  {"data": {"name": "curves"}, "transform": [{"filter": {"and": [{"field": "p", "equal": "30"}, {"field": "m", "equal": "+SC"}]}}],
   "mark": {"type": "line", "clip": true, "interpolate": "monotone", "color": "#1e1e1e", "strokeWidth": 2},
   "encoding": {
    "x": {"field": "x", "type": "quantitative", "axis": {"orient": "top", "title": null, "labels": false, "minExtent": 0, "maxExtent": 0, "values": [4e-5,5e-5,6e-5,7e-5,8e-5,9e-5,1e-4,2e-4,3e-4,4e-4,5e-4,6e-4,7e-4,8e-4,9e-4,1e-3,2e-3,3e-3,4e-3,5e-3,6e-3,7e-3,8e-3,9e-3,1e-2,2e-2,3e-2,4e-2,5e-2,6e-2,7e-2,8e-2,9e-2,0.1], "tickSize": {"condition": {"test": "abs(log(datum.value)/LN10 - round(log(datum.value)/LN10)) < 0.01", "value": -14}, "value": -7}}},
    "y": {"field": "y", "type": "quantitative", "axis": {"orient": "right", "title": null, "labels": false, "minExtent": 0, "maxExtent": 0, "values": [0,0.05,0.1,0.15,0.2,0.25,0.3,0.35,0.4,0.45,0.5,0.55,0.6], "tickSize": {"condition": {"test": "abs(datum.value*5 - round(datum.value*5)) < 0.001", "value": -18}, "value": -8}}},
    "strokeDash": {"field": "m", "type": "nominal", "legend": null}}},
  {"data": {"name": "pts"}, "transform": [{"filter": {"field": "p", "equal": "30"}}],
   "mark": {"type": "point", "filled": true, "shape": "M-1,0.866L0,-0.866L1,0.866Z", "size": 1050, "color": "#1c1c1c", "opacity": 1},
   "encoding": {"x": {"field": "x", "type": "quantitative", "axis": null}, "y": {"field": "y", "type": "quantitative", "axis": null}}}
 ]}
]
}
